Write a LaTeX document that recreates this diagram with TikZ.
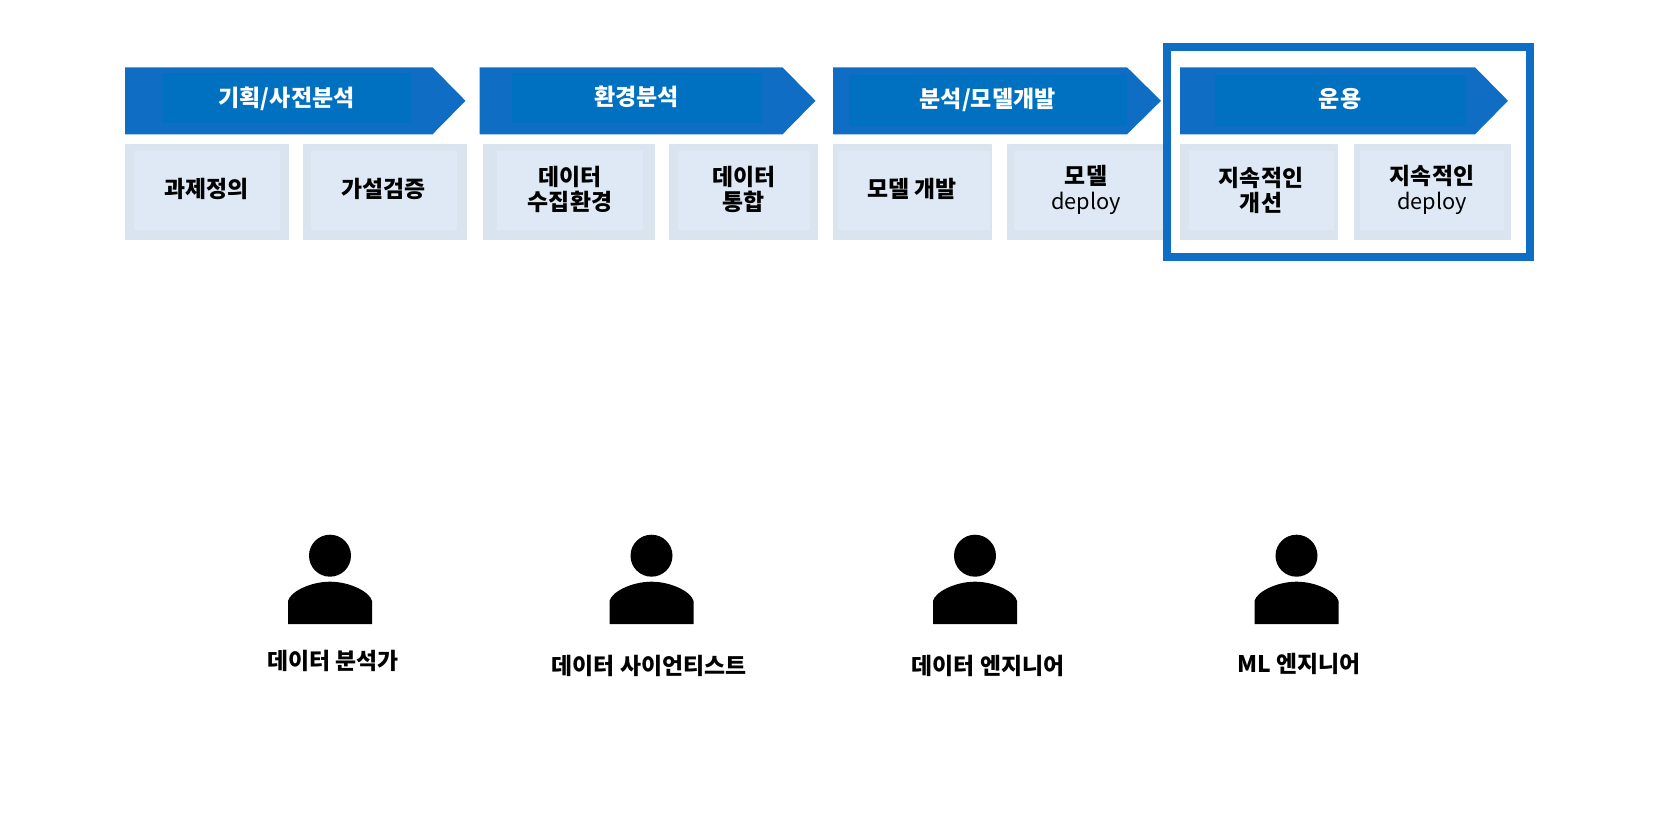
\documentclass[tikz,border=0pt]{standalone}
\usepackage{fontspec}
\setmainfont{Noto Sans CJK KR}
\usetikzlibrary{positioning, calc}
\definecolor{chevronblue}{HTML}{106DC4}
\definecolor{chevroncore}{HTML}{0070C0}
\definecolor{frameblue}{HTML}{0E6EC6}
\definecolor{cellrim}{HTML}{DAE4EE}
\definecolor{cellcore}{HTML}{DEE9F5}

\begin{document}
\begin{tikzpicture}[
    x=0.02cm, y=-0.02cm,
    % ── shared styles ──
    phase title/.style={font=\bfseries\fontsize{13.1}{15}\selectfont, text=white, align=center, inner sep=0pt},
    cell label/.style={font=\bfseries\fontsize{13}{14.2}\selectfont, text=black, align=center, inner sep=0pt},
    role label/.style={font=\bfseries\fontsize{13}{15}\selectfont, text=black, align=center, inner sep=0pt},
    chevron/.style={fill=chevronblue},
    chevron core/.style={fill=chevroncore},
    cell rim/.style={fill=cellrim},
    cell core/.style={fill=cellcore},
    focus frame/.style={draw=frameblue, line width=0.16cm},
    person/.style={fill=black},
]
\useasboundingbox (0,0) rectangle (1658,831);

% ══════════════════════════════════════════════════════════════════════
%  DIMENSIONS
% ══════════════════════════════════════════════════════════════════════
\def\chevT{67.3}  \def\chevB{134.3}  \def\chevM{100.8}
\def\cellT{144}   \def\cellB{240.3}
\def\coreT{150.7} \def\coreB{230}
\def\latinpart{\mdseries\fontsize{12.4}{14.2}\selectfont}
\def\personicon#1{%
  \fill[person] (#1,555.7) circle (21);
  \fill[person] (#1-42,624) -- (#1-42,601)
      .. controls (#1-40,592) and (#1-20,581.7) .. (#1,581.7)
      .. controls (#1+20,581.7) and (#1+40,592) .. (#1+42,601)
      -- (#1+42,624) -- cycle;
}

% ══════════════════════════════════════════════════════════════════════
%  PHASE CHEVRONS
% ══════════════════════════════════════════════════════════════════════
\fill[chevron] (125,\chevT) -- (432.5,\chevT) -- (465.5,\chevM) -- (432.5,\chevB) -- (125,\chevB) -- cycle;
\fill[chevron core] (162,73) rectangle (411,123);
\fill[chevron] (479.5,\chevT) -- (782.5,\chevT) -- (815.5,\chevM) -- (782.5,\chevB) -- (479.5,\chevB) -- cycle;
\fill[chevron core] (512,73) rectangle (762,123);
\fill[chevron] (833,\chevT) -- (1127,\chevT) -- (1161,\chevM) -- (1127,\chevB) -- (833,\chevB) -- cycle;
\fill[chevron core] (849,75) rectangle (1127,126);
\fill[chevron] (1180,\chevT) -- (1475,\chevT) -- (1508,\chevM) -- (1475,\chevB) -- (1180,\chevB) -- cycle;
\fill[chevron core] (1215,75) rectangle (1466,126);

\node[phase title] (planning) at (286.6,98.5) {기획/사전분석};
\node[phase title] (environment) at (636.6,97.3) {환경분석};
\node[phase title] (modeling) at (987.6,99.5) {분석/모델개발};
\node[phase title] (operation) at (1340,99) {운용};

% ══════════════════════════════════════════════════════════════════════
%  CELLS
% ══════════════════════════════════════════════════════════════════════
\fill[cell rim] (125,\cellT) rectangle (289,\cellB);
\fill[cell core] (134,\coreT) rectangle (280,\coreB);
\fill[cell rim] (303,\cellT) rectangle (467,\cellB);
\fill[cell core] (311,\coreT) rectangle (457,\coreB);
\fill[cell rim] (483,\cellT) rectangle (654.5,\cellB);
\fill[cell core] (496.5,\coreT) rectangle (643,\coreB);
\fill[cell rim] (669,\cellT) rectangle (818,\cellB);
\fill[cell core] (678,\coreT) rectangle (810,\coreB);
\fill[cell rim] (833,\cellT) rectangle (992,\cellB);
\fill[cell core] (838,\coreT) rectangle (990,\coreB);
\fill[cell rim] (1007,\cellT) rectangle (1166,\cellB);
\fill[cell core] (1014,\coreT) rectangle (1166,\coreB);
\fill[cell rim] (1180,\cellT) rectangle (1338,\cellB);
\fill[cell core] (1189,\coreT) rectangle (1334,\coreB);
\fill[cell rim] (1353.5,\cellT) rectangle (1511,\cellB);
\fill[cell core] (1360,\coreT) rectangle (1504,\coreB);

\node[cell label] (task) at (206.6,189) {과제정의};
\node[cell label] (hypothesis) at (383.6,189) {가설검증};
\node[cell label] (collect) at (570,189) {데이터\\수집환경};
\node[cell label] (integrate) at (743.7,189) {데이터\\통합};
\node[cell label] (develop) at (912,189) {모델 개발};
\node[cell label] (deploy) at (1086,190) {모델\\{\latinpart deploy}};
\node[cell label] (improve) at (1261,190) {지속적인\\개선};
\node[cell label] (cdeploy) at (1432,190) {지속적인\\{\latinpart deploy}};

% ── operation frame ──
\draw[focus frame] (1166.5,47.5) rectangle (1529.5,256.7);

% ══════════════════════════════════════════════════════════════════════
%  ROLES
% ══════════════════════════════════════════════════════════════════════
\personicon{330}
\personicon{651.5}
\personicon{975}
\personicon{1296.5}

\node[role label] (analyst) at (333,661) {데이터 분석가};
\node[role label] (scientist) at (649,666) {데이터 사이언티스트};
\node[role label] (engineer) at (988,666) {데이터 엔지니어};
\node[role label] (mlengineer) at (1299,664) {ML 엔지니어};

\end{tikzpicture}
\end{document}
